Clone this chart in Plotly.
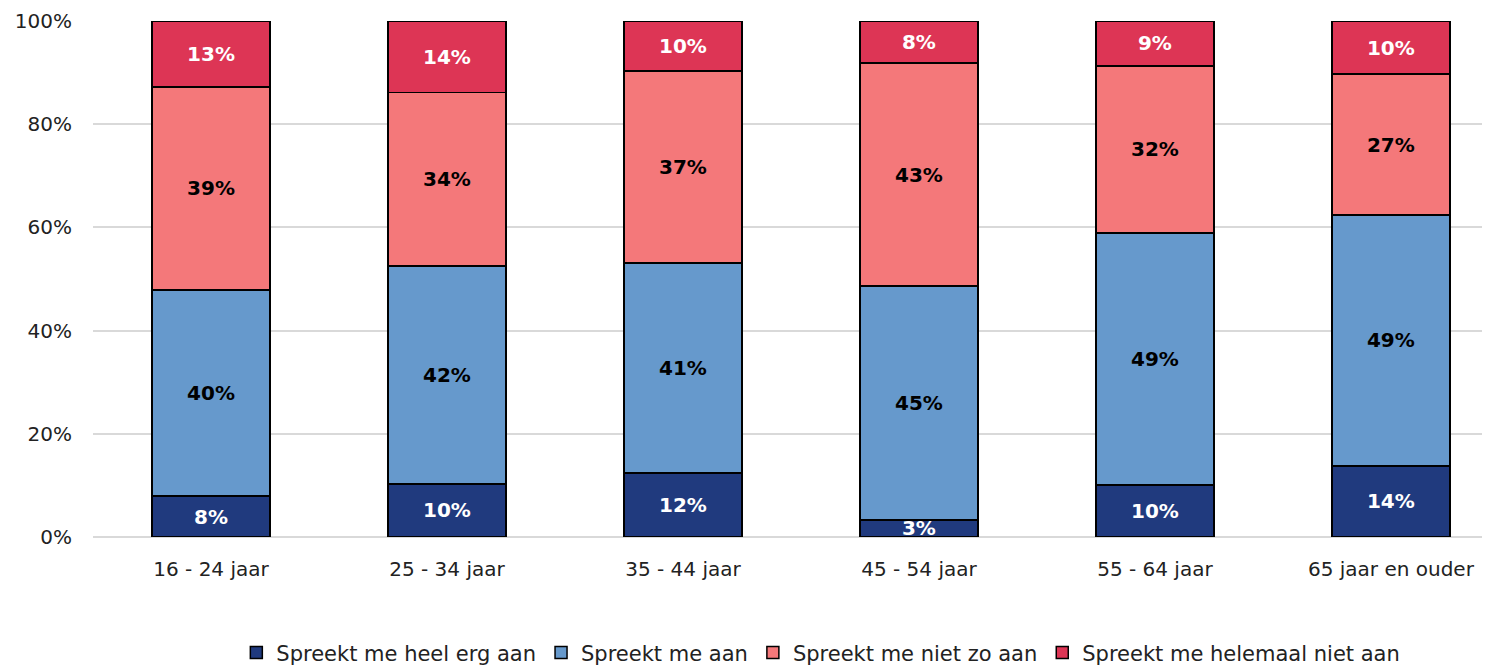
import plotly.graph_objects as go

categories = ["16 - 24 jaar", "25 - 34 jaar", "35 - 44 jaar", "45 - 54 jaar", "55 - 64 jaar", "65 jaar en ouder"]
heel_erg_aan = [7.9, 10.3, 12.4, 3.3, 10.1, 13.8]
aan = [40.0, 42.2, 40.7, 45.3, 48.8, 48.6]
niet_zo_aan = [39.3, 33.6, 37.2, 43.3, 32.4, 27.3]
helemaal_niet_aan = [12.8, 13.9, 9.7, 8.1, 8.7, 10.3]
y_ticks = [0, 20, 40, 60, 80, 100]
y_tick_labels = ["0%", "20%", "40%", "60%", "80%", "100%"]

series_names = ["Spreekt me heel erg aan", "Spreekt me aan", "Spreekt me niet zo aan", "Spreekt me helemaal niet aan"]
series_values = [heel_erg_aan, aan, niet_zo_aan, helemaal_niet_aan]
colors = ["#203A7E", "#6699CC", "#F4787A", "#DD3555"]
text_colors = ["white", "black", "black", "white"]

FONT = "'DejaVu Sans', sans-serif"

fig = go.Figure()
for name, vals, col, tcol in zip(series_names, series_values, colors, text_colors):
    fig.add_trace(go.Bar(
        name=name, x=categories, y=vals,
        marker=dict(color=col, line=dict(color="black", width=1.5)),
        width=0.5,
        texttemplate="<b>%{y:.0f}%</b>",
        textposition="inside", insidetextanchor="middle",
        constraintext="none",
        textfont=dict(color=tcol, size=20, family=FONT),
        hoverinfo="skip",
    ))

fig.update_layout(
    barmode="stack",
    width=1482, height=663,
    margin=dict(l=85, r=0, t=13, b=134, autoexpand=False),
    plot_bgcolor="white", paper_bgcolor="white",
    font=dict(family=FONT, size=20, color="#222222"),
    xaxis=dict(range=[-0.5, 5.42], showgrid=False, showline=False, ticks="",
               automargin=False, ticklabelstandoff=18,
               tickfont=dict(size=20, family=FONT, color="#222222")),
    yaxis=dict(range=[0, 100], tickvals=y_ticks, ticktext=y_tick_labels,
               showgrid=True, gridcolor="#D9D9D9", gridwidth=1.5,
               zeroline=True, zerolinecolor="#D9D9D9", zerolinewidth=1.5,
               ticks="", ticklabelstandoff=20, automargin=False,
               tickfont=dict(size=20, family=FONT, color="#222222")),
    legend=dict(orientation="h", x=0.521, xanchor="center", y=-0.185, yanchor="top",
                font=dict(size=21, family=FONT, color="#222222"),
                traceorder="normal", itemwidth=30),
    showlegend=True,
)

fig.write_html("out.html")
